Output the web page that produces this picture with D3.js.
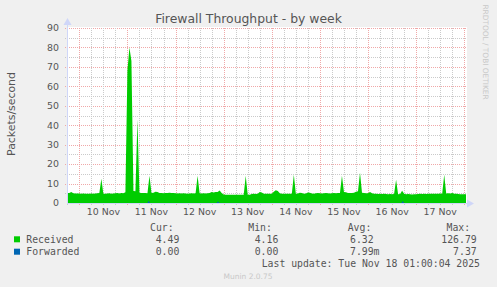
<!DOCTYPE html>
<html>
<head>
<meta charset="utf-8">
<script src="https://cdn.jsdelivr.net/npm/d3@7"></script>
<style>
  html, body { margin: 0; padding: 0; background: #f0f0f0; }
  svg { display: block; }
  text { white-space: pre; }
</style>
</head>
<body>
<script>
// ---------- DATA ----------
const title = "Firewall Throughput - by week";
const yLabel = "Packets/second";
const yTicks = [0, 10, 20, 30, 40, 50, 60, 70, 80, 90];
const dayLabels = ["10 Nov", "11 Nov", "12 Nov", "13 Nov", "14 Nov", "15 Nov", "16 Nov", "17 Nov"];
const dayDates = [10, 11, 12, 13, 14, 15, 16, 17];

// Received, hourly values starting 2025-11-09 18:00
const receivedStart = new Date(2025, 10, 9, 18, 0);
const received = [
  // Nov 9 18-23
  5.1, 5.2, 5.6, 5.0, 4.9, 4.9,
  // Nov 10
  4.9, 4.8, 4.9, 4.8, 4.7, 4.8, 4.9, 4.8, 4.9, 5.0, 5.2, 12.5,
  4.8, 4.7, 4.9, 5.0, 4.8, 4.9, 5.0, 5.1, 4.9, 5.2, 5.0, 5.5,
  // Nov 11
  68, 80, 73, 6.2, 6.0, 43, 5.3, 5.2, 5.1, 5.2, 5.0, 14,
  5.1, 5.3, 5.8, 5.6, 5.2, 5.1, 5.0, 5.1, 5.2, 5.3, 5.2, 5.1,
  // Nov 12
  5.0, 4.9, 5.0, 4.9, 5.0, 4.9, 4.8, 4.9, 5.0, 4.9, 5.0, 14,
  5.0, 4.9, 5.0, 4.9, 5.0, 5.1, 5.6, 5.4, 5.7, 5.6, 6.4, 5.2,
  // Nov 13
  4.4, 4.3, 4.3, 4.2, 4.2, 4.3, 4.2, 4.3, 4.2, 4.3, 4.2, 14,
  4.2, 4.3, 4.6, 4.7, 4.6, 4.8, 5.6, 5.4, 4.8, 4.7, 4.8, 4.7,
  // Nov 14
  4.8, 5.8, 6.5, 6.2, 5.0, 4.8, 4.7, 4.8, 4.7, 4.8, 4.7, 14.5,
  4.8, 4.9, 5.3, 5.2, 4.8, 4.9, 5.4, 5.3, 4.9, 4.8, 5.0, 5.1,
  // Nov 15
  5.0, 4.9, 5.0, 5.1, 5.0, 4.9, 5.0, 5.1, 5.0, 5.2, 5.1, 14,
  5.6, 5.5, 5.2, 5.1, 5.2, 5.3, 5.8, 6.0, 15.5, 5.3, 5.2, 5.0,
  // Nov 16
  5.0, 5.6, 5.0, 4.8, 4.7, 4.6, 4.7, 4.6, 4.7, 4.6, 4.5, 4.6,
  4.5, 4.6, 12, 4.5, 4.6, 6.3, 4.8, 4.5, 4.6, 4.5, 4.4, 4.5,
  // Nov 17
  4.5, 4.6, 4.7, 4.6, 4.7, 4.6, 4.7, 4.8, 4.7, 4.8, 4.7, 4.8,
  4.9, 4.8, 14.5, 4.9, 5.0, 4.9, 5.1, 4.8, 4.7, 4.6, 4.5, 4.5,
  // Nov 18 00-01
  4.5, 4.49
];

// Forwarded: [time, value]
const forwarded = [
  ["2025-11-09T18:00", 0], ["2025-11-11T10:00", 0], ["2025-11-11T10:36", 1.1], ["2025-11-11T11:15", 0],
  ["2025-11-12T20:30", 0], ["2025-11-12T21:10", 0.8], ["2025-11-12T21:50", 0],
  ["2025-11-16T16:40", 0], ["2025-11-16T17:18", 1.0], ["2025-11-16T18:00", 0],
  ["2025-11-18T01:00", 0]
];

const seriesNames = ["Received", "Forwarded"];
const seriesColors = ["#00cc00", "#0066b3"];
const legendCur = ["4.49", "0.00"];
const legendMin = ["4.16", "0.00"];
const legendAvg = ["6.32", "7.99m"];
const legendMax = ["126.79", "7.37"];
const lastUpdate = "Last update: Tue Nov 18 01:00:04 2025";
const muninVersion = "Munin 2.0.75";
const rrdCredit = "RRDTOOL / TOBI OETIKER";

// ---------- LAYOUT ----------
const W = 497, H = 287;
const L = 67, R = 466, T = 28, B = 203;
const fontColor = "#555";
const axisColor = "#cfd6f8";
const majorGrid = "#f0a8a8";
const minorGrid = "#cacaca";
const sans = "'DejaVu Sans', sans-serif";
const mono = "'DejaVu Sans Mono', monospace";

const svg = d3.select("body").append("svg").attr("width", W).attr("height", H);
svg.append("rect").attr("width", W).attr("height", H).attr("fill", "#f0f0f0");

const x = d3.scaleTime()
  .domain([new Date(2025, 10, 9, 17, 52), new Date(2025, 10, 18, 0, 52)])
  .range([L, R]);
const y = d3.scaleLinear().domain([0, 90]).range([B, T]);

// canvas
svg.append("rect").attr("x", L).attr("y", T - 1).attr("width", R - L + 1).attr("height", B - T + 1).attr("fill", "#fff");

const grid = svg.append("g");
// horizontal grid
const minorY = d3.range(5, 90, 10);
grid.selectAll(".hmin").data(minorY).join("line")
  .attr("x1", L - 2).attr("x2", R).attr("y1", d => Math.round(y(d)) + 0.5).attr("y2", d => Math.round(y(d)) + 0.5)
  .attr("stroke", minorGrid).attr("stroke-dasharray", "1,1");
grid.selectAll(".hmaj").data(yTicks.filter(d => d > 0)).join("line")
  .attr("x1", L - 2).attr("x2", R).attr("y1", d => Math.round(y(d)) + 0.5).attr("y2", d => Math.round(y(d)) + 0.5)
  .attr("stroke", majorGrid).attr("stroke-dasharray", "1,1");

// vertical grid
const sixHours = d3.timeHour.every(6).range(x.domain()[0], x.domain()[1]);
grid.selectAll(".vmin").data(sixHours.filter(d => d.getHours() !== 0)).join("line")
  .attr("x1", d => Math.round(x(d)) + 0.5).attr("x2", d => Math.round(x(d)) + 0.5)
  .attr("y1", T).attr("y2", B + 2)
  .attr("stroke", minorGrid).attr("stroke-dasharray", "1,1");
grid.selectAll(".vmaj").data(sixHours.filter(d => d.getHours() === 0)).join("line")
  .attr("x1", d => Math.round(x(d)) + 0.5).attr("x2", d => Math.round(x(d)) + 0.5)
  .attr("y1", T).attr("y2", B + 2)
  .attr("stroke", majorGrid).attr("stroke-dasharray", "1,1");

// series
const recPts = received.map((v, i) => ({ t: d3.timeHour.offset(receivedStart, i), v }));
const fwdPts = forwarded.map(([t, v]) => ({ t: new Date(t), v }));

const clip = svg.append("clipPath").attr("id", "clip").append("rect")
  .attr("x", L).attr("y", T - 5).attr("width", R - L).attr("height", B - T + 5);

const area = d3.area().x(d => x(d.t)).y0(y(0)).y1(d => y(d.v)).curve(d3.curveLinear);
svg.append("path").datum(recPts).attr("d", area).attr("fill", seriesColors[0]).attr("clip-path", "url(#clip)");
svg.append("path").datum(fwdPts).attr("d", area).attr("fill", seriesColors[1]).attr("clip-path", "url(#clip)");

// axes
svg.append("line").attr("x1", L).attr("x2", R + 2).attr("y1", B + 0.5).attr("y2", B + 0.5).attr("stroke", axisColor);
svg.append("path").attr("d", `M${R + 1},${B - 3.5}L${R + 8},${B + 0.5}L${R + 1},${B + 4.5}Z`).attr("fill", axisColor);
svg.append("line").attr("x1", L + 0.5).attr("x2", L + 0.5).attr("y1", B + 1).attr("y2", T - 4).attr("stroke", axisColor);
svg.append("path").attr("d", `M${L - 3.5},${T - 3}L${L + 0.5},${T - 10}L${L + 4.5},${T - 3}Z`).attr("fill", axisColor);

// y tick labels
svg.selectAll(".ytl").data(yTicks).join("text")
  .attr("x", L - 8).attr("y", d => y(d)).attr("dy", "0.36em")
  .attr("text-anchor", "end").attr("font-family", sans).attr("font-size", 9.4).attr("fill", fontColor)
  .text(d => d);

// x tick labels at noon
svg.selectAll(".xtl").data(dayDates).join("text")
  .attr("x", (d) => x(new Date(2025, 10, d, 12, 0))).attr("y", 212).attr("dy", "0.36em")
  .attr("text-anchor", "middle").attr("font-family", sans).attr("font-size", 9.4).attr("fill", fontColor)
  .text((d, i) => dayLabels[i]);

// title
svg.append("text").attr("x", 248.5).attr("y", 19).attr("dy", "0.36em").attr("text-anchor", "middle")
  .attr("font-family", sans).attr("font-size", 12.4).attr("fill", fontColor).text(title);

// y label
svg.append("text").attr("transform", "translate(11,114) rotate(-90)").attr("dy", "0.36em").attr("text-anchor", "middle")
  .attr("font-family", sans).attr("font-size", 10.9).attr("fill", fontColor).text(yLabel);

// rrdtool credit
svg.append("text").attr("transform", "translate(486,52) rotate(90)").attr("dy", "0.36em").attr("text-anchor", "middle")
  .attr("font-family", sans).attr("font-size", 7.4).attr("fill", "#c8c8c8").text(rrdCredit);

// legend
const lf = 9.8;
const hdrY = 227.3, rowY = [239.3, 251.7];
const legend = svg.append("g").attr("font-family", mono).attr("font-size", lf).attr("fill", fontColor);
[["Cur:", 150], ["Min:", 248.3], ["Avg:", 347.7], ["Max:", 446.5]].forEach(([t, xx]) => {
  legend.append("text").attr("x", xx).attr("y", hdrY).attr("dy", "0.36em").text(t);
});
seriesNames.forEach((n, i) => {
  svg.append("rect").attr("x", 14).attr("y", rowY[i] - 3).attr("width", 6).attr("height", 6).attr("fill", seriesColors[i]);
  legend.append("text").attr("x", 26.3).attr("y", rowY[i]).attr("dy", "0.36em").text(n);
  legend.append("text").attr("x", 179.3).attr("y", rowY[i]).attr("dy", "0.36em").attr("text-anchor", "end").text(legendCur[i]);
  legend.append("text").attr("x", 278.3).attr("y", rowY[i]).attr("dy", "0.36em").attr("text-anchor", "end").text(legendMin[i]);
  legend.append("text").attr("x", 350).attr("y", rowY[i]).attr("dy", "0.36em").text(legendAvg[i]);
  legend.append("text").attr("x", 476.7).attr("y", rowY[i]).attr("dy", "0.36em").attr("text-anchor", "end").text(legendMax[i]);
});
legend.append("text").attr("x", 261.7).attr("y", 263.3).attr("dy", "0.36em").text(lastUpdate);

svg.append("text").attr("x", 248).attr("y", 276.7).attr("dy", "0.36em").attr("text-anchor", "middle")
  .attr("font-family", sans).attr("font-size", 7.5).attr("fill", "#c8c8c8").text(muninVersion);
</script>
</body>
</html>
